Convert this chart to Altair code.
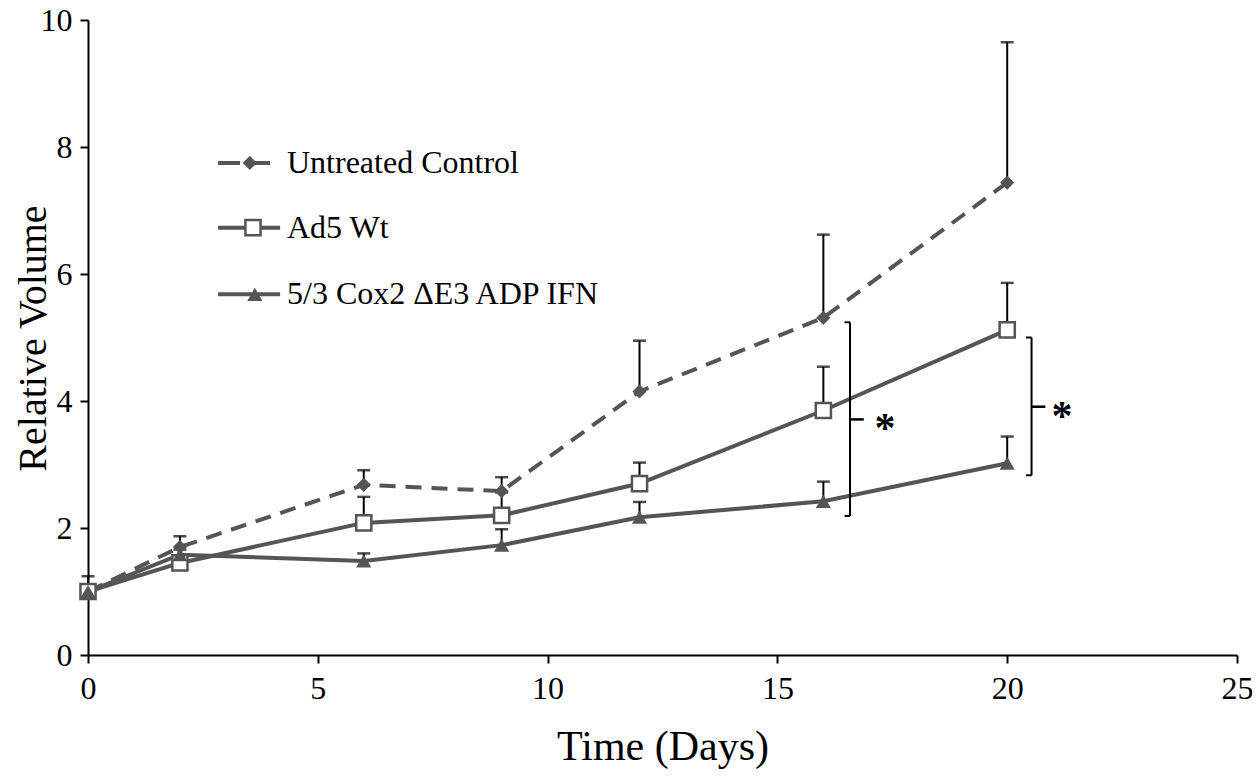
import altair as alt
import pandas as pd

# ---- data ----
days = [0, 2, 6, 9, 12, 16, 20]
untreated = [1.0, 1.70, 2.68, 2.58, 4.15, 5.31, 7.44]
untreated_err = [0.24, 0.17, 0.23, 0.22, 0.80, 1.31, 2.21]
ad5 = [1.0, 1.45, 2.08, 2.20, 2.70, 3.85, 5.12]
ad5_err = [0.10, 0.10, 0.41, 0.36, 0.33, 0.69, 0.74]
cox = [1.0, 1.58, 1.48, 1.73, 2.17, 2.42, 3.02]
cox_err = [0.08, 0.08, 0.12, 0.25, 0.24, 0.31, 0.42]
series_names = ["Untreated Control", "Ad5 Wt", "5/3 Cox2 \u0394E3 ADP IFN"]

# significance brackets (in data units)
brk_x = [16.58, 20.53]
brk_lo = [2.19, 2.83]
brk_hi = [5.24, 5.00]
brk_mid = [3.71, 3.91]
brk_star_x = [17.34, 21.19]

# legend anchor (in data units)
leg_y = [7.75, 6.73, 5.68]
leg_x0 = 2.83
leg_x1 = [4.03, 4.18, 4.18]
leg_sym_x = [3.52, 3.59, 3.63]
leg_text_x = 4.33

FONT = "Liberation Serif"
GRAY = "#555555"

rows = []
for name, vals, errs in zip(series_names, [untreated, ad5, cox], [untreated_err, ad5_err, cox_err]):
    for d, v, e in zip(days, vals, errs):
        rows.append({"series": name, "day": d, "value": v, "upper": v + e})
df = pd.DataFrame(rows)

xscale = alt.Scale(domain=[0, 25], nice=False, zero=False)
yscale = alt.Scale(domain=[0, 10], nice=False)

axis_common = dict(
    grid=False, domainColor="black", domainWidth=2, tickColor="black", tickWidth=2, tickSize=8,
    labelFont=FONT, labelFontSize=32, labelColor="black", labelFlush=False, format="d",
    titleFont=FONT, titleFontWeight="normal", titleColor="black",
)

X = alt.X("day:Q", scale=xscale, title="Time (Days)",
          axis=alt.Axis(values=[0, 5, 10, 15, 20, 25], labelPadding=10, titlePadding=22,
                        titleFontSize=42, **axis_common))
Y = alt.Y("value:Q", scale=yscale, title="Relative Volume",
          axis=alt.Axis(values=[0, 2, 4, 6, 8, 10], labelPadding=8, titleX=-43, titleY=318,
                        titleFontSize=40, titleAngle=270, titleAlign="center",
                        titleBaseline="alphabetic", **axis_common))

def sub(name):
    return alt.Chart(df).transform_filter(alt.datum.series == name)

# error bars (upper only)
err = alt.Chart(df).mark_rule(color="black", strokeWidth=2).encode(
    x=X, y=Y, y2="upper:Q")
caps = alt.Chart(df).mark_tick(color="black", orient="horizontal", size=13, thickness=2.5).encode(
    x=X, y=alt.Y("upper:Q", scale=yscale))

line_u = sub(series_names[0]).mark_line(color=GRAY, strokeWidth=4, strokeDash=[16, 10]).encode(x=X, y=Y)
line_a = sub(series_names[1]).mark_line(color=GRAY, strokeWidth=4).encode(x=X, y=Y)
line_c = sub(series_names[2]).mark_line(color=GRAY, strokeWidth=4).encode(x=X, y=Y)

pt_u = sub(series_names[0]).mark_point(shape="diamond", filled=True, color=GRAY, size=200, opacity=1).encode(x=X, y=Y)
pt_a = sub(series_names[1]).mark_point(shape="square", filled=False, fill="white", stroke=GRAY,
                                       strokeWidth=2.5, size=230, opacity=1, fillOpacity=1).encode(x=X, y=Y)
pt_c = sub(series_names[2]).mark_point(shape="triangle-up", filled=True, color=GRAY, size=230, opacity=1).encode(x=X, y=Y)

# brackets
bdf = pd.DataFrame({"x": brk_x, "lo": brk_lo, "hi": brk_hi, "mid": brk_mid, "sx": brk_star_x})
bx = alt.X("x:Q", scale=xscale)
b_vert = alt.Chart(bdf).mark_rule(color="black", strokeWidth=2).encode(
    x=bx, y=alt.Y("lo:Q", scale=yscale), y2="hi:Q")
b_lo = alt.Chart(bdf).transform_calculate(xl="datum.x - 0.12").mark_rule(color="black", strokeWidth=2).encode(
    x=alt.X("xl:Q", scale=xscale), x2="x:Q", y=alt.Y("lo:Q", scale=yscale))
b_hi = alt.Chart(bdf).transform_calculate(xl="datum.x - 0.12").mark_rule(color="black", strokeWidth=2).encode(
    x=alt.X("xl:Q", scale=xscale), x2="x:Q", y=alt.Y("hi:Q", scale=yscale))
b_mid = alt.Chart(bdf).transform_calculate(xr="datum.x + 0.3").mark_rule(color="black", strokeWidth=2.5).encode(
    x=bx, x2="xr:Q", y=alt.Y("mid:Q", scale=yscale))
b_star = alt.Chart(bdf).mark_text(text="*", font=FONT, fontSize=42, fontWeight="bold", color="black",
                                  baseline="middle", align="center", dy=10).encode(
    x=alt.X("sx:Q", scale=xscale), y=alt.Y("mid:Q", scale=yscale))

# legend
ldf = pd.DataFrame({"series": series_names, "y": leg_y, "x0": [leg_x0] * 3, "x1": leg_x1,
                    "sx": leg_sym_x, "tx": [leg_text_x] * 3})
ly = alt.Y("y:Q", scale=yscale)
leg_line_u = alt.Chart(ldf).transform_filter(alt.datum.series == series_names[0]).mark_rule(
    color=GRAY, strokeWidth=4, strokeDash=[22, 8]).encode(x=alt.X("x0:Q", scale=xscale), x2="x1:Q", y=ly)
leg_line_s = alt.Chart(ldf).transform_filter(alt.datum.series != series_names[0]).mark_rule(
    color=GRAY, strokeWidth=4).encode(x=alt.X("x0:Q", scale=xscale), x2="x1:Q", y=ly)
lsx = alt.X("sx:Q", scale=xscale)
leg_pt_u = alt.Chart(ldf).transform_filter(alt.datum.series == series_names[0]).mark_point(
    shape="diamond", filled=True, color=GRAY, size=200, opacity=1).encode(x=lsx, y=ly)
leg_pt_a = alt.Chart(ldf).transform_filter(alt.datum.series == series_names[1]).mark_point(
    shape="square", filled=False, fill="white", stroke=GRAY, strokeWidth=2.5, size=230, opacity=1,
    fillOpacity=1).encode(x=lsx, y=ly)
leg_pt_c = alt.Chart(ldf).transform_filter(alt.datum.series == series_names[2]).mark_point(
    shape="triangle-up", filled=True, color=GRAY, size=230, opacity=1).encode(x=lsx, y=ly)
leg_text = alt.Chart(ldf).mark_text(font=FONT, fontSize=32, color="black", align="left",
                                    baseline="middle").encode(
    x=alt.X("tx:Q", scale=xscale), y=ly, text="series:N")

chart = alt.layer(
    err, caps, line_u, line_a, line_c, pt_u, pt_a, pt_c,
    b_vert, b_lo, b_hi, b_mid, b_star,
    leg_line_u, leg_line_s, leg_pt_u, leg_pt_a, leg_pt_c, leg_text,
).properties(
    width=1149, height=635,
    autosize=alt.AutoSizeParams(type="none"),
    padding={"left": 80, "top": 12, "right": 15, "bottom": 118},
).configure_view(stroke=None)

chart.save("out.html", embed_options={"renderer": "svg", "actions": False})
